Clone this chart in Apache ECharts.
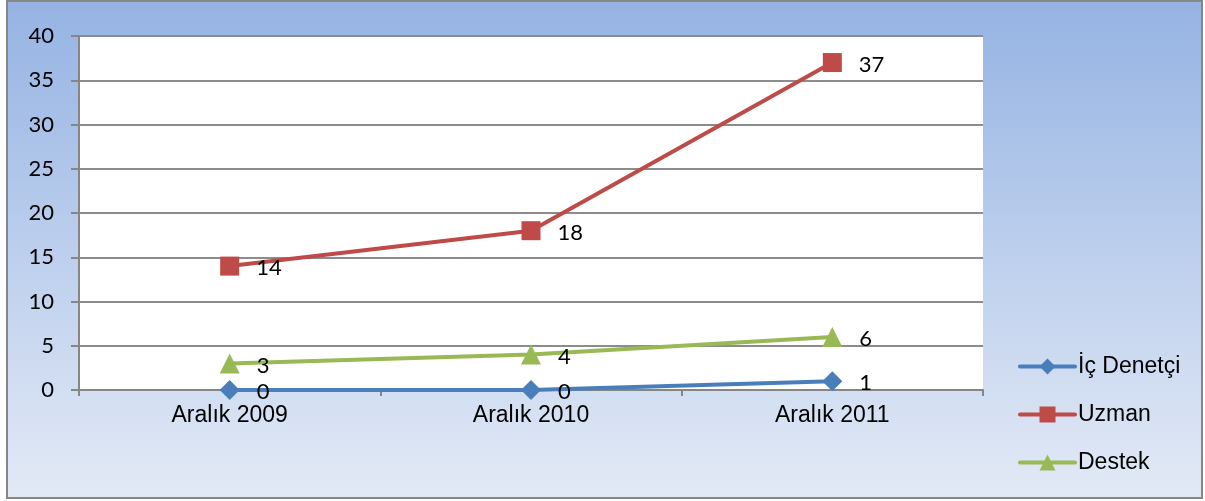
<!DOCTYPE html>
<html lang="tr">
    <head>
        <meta http-equiv="Content-Type" content="text/html; charset=utf-8" />
        <title>Personel</title>
        <style>
            * {
                margin: 0;
                padding: 0;
                box-sizing: border-box;
            }
            html,
            body {
                width: 100%;
                height: 100%;
                background: #fff;
            }
            #chart {
                width: 1205px;
                height: 501px;
            }
        </style>
    </head>
    <body>
        <div id="chart"></div>
        <script src="https://cdn.jsdelivr.net/npm/echarts@6/dist/echarts.min.js"></script>
        <script>
            const categories = ['Aralık 2009', 'Aralık 2010', 'Aralık 2011']
            const icDenetci = [0, 0, 1]
            const uzman = [14, 18, 37]
            const destek = [3, 4, 6]
            const yTicks = { min: 0, max: 40, interval: 5 }

            const labelStyle = {
                show: true,
                position: 'right',
                distance: 17,
                offset: [0, 2],
                color: '#000',
                fontFamily: 'Lato',
                fontSize: 22,
            }

            function lineSeries(name, data, color, symbol, size) {
                return {
                    name,
                    type: 'line',
                    data,
                    symbol,
                    symbolSize: size,
                    lineStyle: { color, width: 4 },
                    itemStyle: { color },
                    label: labelStyle,
                    emphasis: { disabled: true },
                }
            }

            const chart = echarts.init(document.getElementById('chart'))
            chart.setOption({
                backgroundColor: '#fff',
                animation: false,
                graphic: [
                    {
                        type: 'rect',
                        z: -10,
                        shape: { x: 7, y: 1, width: 1195, height: 497 },
                        style: {
                            fill: new echarts.graphic.LinearGradient(0, 0, 0, 1, [
                                { offset: 0, color: '#95b3e3' },
                                { offset: 1, color: '#e3eaf6' },
                            ]),
                            stroke: '#868686',
                            lineWidth: 2,
                        },
                    },
                ],
                grid: {
                    left: 79,
                    right: 222,
                    top: 36,
                    bottom: 111,
                    show: true,
                    backgroundColor: '#fff',
                    borderWidth: 0,
                },
                legend: {
                    data: ['İç Denetçi', 'Uzman', 'Destek'],
                    orient: 'vertical',
                    left: 1018,
                    top: 355,
                    padding: 0,
                    itemWidth: 55,
                    itemHeight: 20,
                    itemGap: 25,
                    lineStyle: { width: 4, cap: 'round' },
                    textStyle: {
                        color: '#000',
                        fontFamily: 'Liberation Sans',
                        fontSize: 23,
                        padding: [0, 0, 0, -2],
                    },
                },
                xAxis: {
                    type: 'category',
                    data: categories,
                    boundaryGap: true,
                    axisLine: { lineStyle: { color: '#868686', width: 2 } },
                    axisTick: { show: true, length: 6, lineStyle: { color: '#868686', width: 2 } },
                    axisLabel: {
                        color: '#000',
                        fontFamily: 'Liberation Sans',
                        fontSize: 23,
                        margin: 14,
                    },
                },
                yAxis: {
                    type: 'value',
                    min: yTicks.min,
                    max: yTicks.max,
                    interval: yTicks.interval,
                    axisLine: { show: true, lineStyle: { color: '#868686', width: 2 } },
                    axisTick: { show: true, length: 8, lineStyle: { color: '#868686', width: 2 } },
                    axisLabel: {
                        color: '#000',
                        fontFamily: 'Lato',
                        fontSize: 22,
                        margin: 25,
                    },
                    splitLine: { lineStyle: { color: '#8c8c8c', width: 2 } },
                },
                series: [
                    lineSeries('Destek', destek, '#98b954', 'triangle', 20),
                    lineSeries('Uzman', uzman, '#be4b48', 'rect', 19),
                    lineSeries('İç Denetçi', icDenetci, '#4a7ebb', 'diamond', 20),
                ],
            })
        </script>
    </body>
</html>
